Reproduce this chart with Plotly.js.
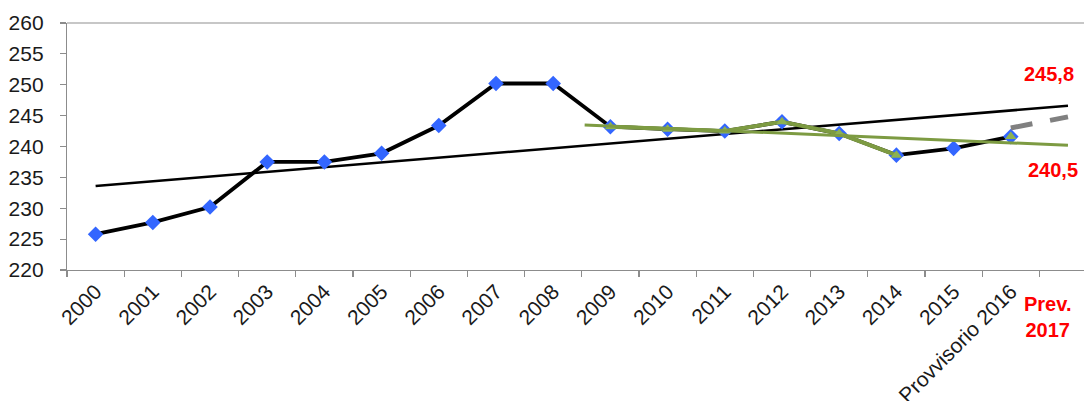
<!DOCTYPE html>
<html>
<head>
<meta charset="utf-8">
<script src="https://cdn.plot.ly/plotly-3.0.1.min.js"></script>
<style>html,body{margin:0;padding:0;background:#fff;}#chart{width:1084px;height:401px;}</style>
</head>
<body>
<div id="chart"></div>
<script>
// ---- data ----
const categories = ['2000','2001','2002','2003','2004','2005','2006','2007','2008','2009','2010','2011','2012','2013','2014','2015','Provvisorio 2016','Prev. 2017'];
const consumo = [225.8,227.7,230.2,237.5,237.5,238.9,243.4,250.2,250.2,243.2,242.8,242.5,244.0,242.1,238.6,239.7,241.6,null];
const recente = [null,null,null,null,null,null,null,null,null,243.2,242.8,242.5,244.0,242.1,238.6,null,241.6,null];
const trendAllX = [0, 17];
const trendAllY = [233.6, 246.6];
const trendRecX = [8.55, 17];
const trendRecY = [243.5, 240.2];
const previsioneX = [16, 17];
const previsioneY = [243.0, 244.8];
const labelTrendAll = '245,8';
const labelTrendRec = '240,5';
const prevLabel = 'Prev.<br>2017';

const idx = categories.map((c,i)=>i);
const FONT = 'Liberation Sans, Arial, sans-serif';

const traces = [
  {x: trendAllX, y: trendAllY, mode:'lines', line:{color:'#000', width:2.5}, hoverinfo:'skip'},
  {x: idx, y: consumo, mode:'lines+markers', line:{color:'#000', width:3.8},
   marker:{symbol:'diamond', size:12, color:'#3366FF'}},
  {x: idx, y: recente, mode:'lines+markers', connectgaps:false, line:{color:'#7D9B42', width:4},
   marker:{symbol:'triangle-up', size:10, color:'#8DB152'}},
  {x: trendRecX, y: trendRecY, mode:'lines', line:{color:'#7D9B42', width:3}, hoverinfo:'skip'},
  {x: previsioneX, y: previsioneY, mode:'lines', line:{color:'#808080', width:5, dash:'22px,18px'}, hoverinfo:'skip'},
  {x: [0], y: [null], xaxis:'x2', mode:'markers', showlegend:false, hoverinfo:'skip'}
];

const boundaries = [];
for (let i = 0; i < categories.length; i++) boundaries.push(i - 0.5);

const xr = [-0.5, 17.28];
const layout = {
  width:1084, height:401,
  margin:{l:67, r:0, t:23, b:131, pad:0},
  paper_bgcolor:'#fff', plot_bgcolor:'#fff',
  showlegend:false,
  font:{family:FONT, color:'#1a1a1a'},
  xaxis:{
    range:xr, tickmode:'array', tickvals:idx.slice(0,17), ticktext:categories.slice(0,17),
    tickangle:-45, ticks:'', showgrid:false, zeroline:false,
    showline:true, linecolor:'#8c8c8c', linewidth:1.2,
    tickfont:{family:FONT, size:21, color:'#1a1a1a'}
  },
  xaxis2:{
    range:xr, overlaying:'x', anchor:'y', side:'bottom', tickmode:'array', tickvals:boundaries,
    ticks:'outside', ticklen:6, tickcolor:'#8c8c8c', tickwidth:1.2, showticklabels:false,
    showgrid:false, zeroline:false, showline:false
  },
  yaxis:{
    range:[220,260], dtick:5, tick0:220, ticks:'outside', ticklen:6, tickcolor:'#8c8c8c', tickwidth:1.2,
    showgrid:false, zeroline:false, showline:true, linecolor:'#8c8c8c', linewidth:1.2,
    tickfont:{family:FONT, size:21, color:'#1a1a1a'}, ticklabelstandoff:12
  },
  shapes:[
    {type:'line', xref:'paper', yref:'paper', x0:0, x1:1, y0:1, y1:1, line:{color:'#b4b4b4', width:1.5}}
  ],
  annotations:[
    {x:16.67, y:251.7, xref:'x', yref:'y', text:labelTrendAll, showarrow:false,
     font:{family:FONT, size:20, color:'#FF0000', weight:'bold'}},
    {x:16.73, y:236.2, xref:'x', yref:'y', text:labelTrendRec, showarrow:false,
     font:{family:FONT, size:20, color:'#FF0000', weight:'bold'}},
    {x:16.65, y:0, xref:'x', yref:'paper', yanchor:'top', yshift:-21, text:prevLabel, showarrow:false,
     align:'center', font:{family:FONT, size:20, color:'#FF0000', weight:'bold'}}
  ]
};

Plotly.newPlot('chart', traces, layout, {staticPlot:true, displayModeBar:false});
</script>
</body>
</html>
